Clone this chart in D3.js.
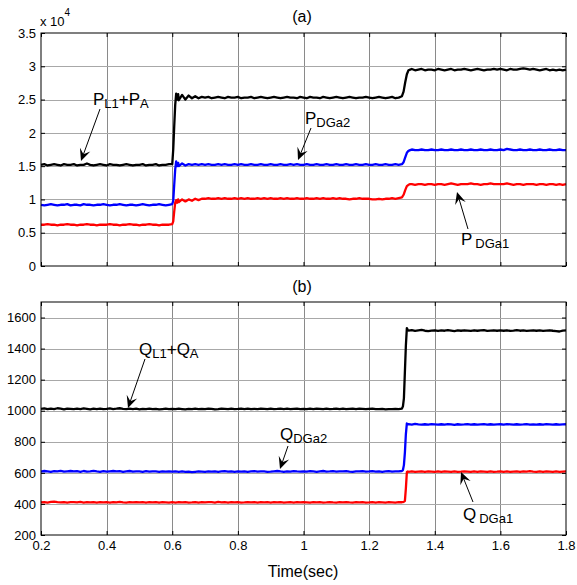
<!DOCTYPE html>
<html><head><meta charset="utf-8">
<script src="https://cdn.jsdelivr.net/npm/d3@7"></script>
<style>body{margin:0;background:#fff}svg{display:block}text{font-family:"Liberation Sans",Arial,sans-serif}</style>
</head><body><svg id="c" width="577" height="585"></svg>
<script>
// ---------- DATA ----------
const xTicks = [0.2,0.4,0.6,0.8,1.0,1.2,1.4,1.6,1.8];
const xTickLabels = ["0.2","0.4","0.6","0.8","1","1.2","1.4","1.6","1.8"];
const yTicksA = [0,0.5,1,1.5,2,2.5,3,3.5];
const yTickLabelsA = ["0","0.5","1","1.5","2","2.5","3","3.5"];
const yTicksB = [200,400,600,800,1000,1200,1400,1600];
const yTickLabelsB = ["200","400","600","800","1000","1200","1400","1600"];

// panel (a) sample times (sec)
const tA = [
0.20,0.21,0.22,0.23,0.24,0.25,0.26,0.27,0.28,0.29,
0.30,0.31,0.32,0.33,0.34,0.35,0.36,0.37,0.38,0.39,
0.40,0.41,0.42,0.43,0.44,0.45,0.46,0.47,0.48,0.49,
0.50,0.51,0.52,0.53,0.54,0.55,0.56,0.57,0.58,0.59,
0.60,
0.603,0.606,0.609,0.612,0.615,0.618,
0.62,0.63,0.64,0.65,0.66,0.67,0.68,0.69,
0.70,0.71,0.72,0.73,0.74,0.75,0.76,0.77,0.78,0.79,
0.80,0.81,0.82,0.83,0.84,0.85,0.86,0.87,0.88,0.89,
0.90,0.91,0.92,0.93,0.94,0.95,0.96,0.97,0.98,0.99,
1.00,1.01,1.02,1.03,1.04,1.05,1.06,1.07,1.08,1.09,
1.10,1.11,1.12,1.13,1.14,1.15,1.16,1.17,1.18,1.19,
1.20,1.21,1.22,1.23,1.24,1.25,1.26,1.27,1.28,1.29,
1.30,
1.305,1.31,1.315,1.32,1.325,
1.33,1.34,1.35,1.36,1.37,1.38,1.39,
1.40,1.41,1.42,1.43,1.44,1.45,1.46,1.47,1.48,1.49,
1.50,1.51,1.52,1.53,1.54,1.55,1.56,1.57,1.58,1.59,
1.60,1.61,1.62,1.63,1.64,1.65,1.66,1.67,1.68,1.69,
1.70,1.71,1.72,1.73,1.74,1.75,1.76,1.77,1.78,1.79,
1.80];

// P_L1+P_A  (x 10^4 W)
const pLoad = [
1.52,1.53,1.51,1.52,1.53,1.52,1.51,1.53,1.52,1.52,
1.53,1.51,1.52,1.52,1.54,1.52,1.51,1.52,1.53,1.52,
1.51,1.53,1.52,1.52,1.51,1.52,1.53,1.52,1.51,1.52,
1.52,1.53,1.51,1.52,1.52,1.53,1.51,1.52,1.52,1.53,
1.53,
1.75,2.10,2.42,2.59,2.50,2.58,
2.49,2.57,2.50,2.56,2.52,2.55,2.52,2.54,
2.53,2.54,2.52,2.53,2.54,2.53,2.52,2.54,2.53,2.53,
2.54,2.52,2.53,2.53,2.54,2.52,2.53,2.54,2.53,2.52,
2.53,2.54,2.53,2.52,2.53,2.54,2.53,2.53,2.52,2.54,
2.53,2.52,2.54,2.53,2.53,2.52,2.54,2.53,2.52,2.53,
2.54,2.53,2.52,2.53,2.54,2.53,2.52,2.53,2.53,2.54,
2.53,2.52,2.53,2.54,2.53,2.52,2.53,2.54,2.52,2.53,
2.55,
2.62,2.76,2.88,2.94,2.95,
2.96,2.94,2.95,2.96,2.94,2.95,2.95,
2.94,2.96,2.95,2.94,2.95,2.96,2.94,2.95,2.95,2.96,
2.95,2.94,2.95,2.96,2.95,2.94,2.95,2.95,2.96,2.95,
2.96,2.95,2.94,2.96,2.95,2.95,2.96,2.97,2.96,2.95,
2.96,2.95,2.94,2.95,2.96,2.94,2.95,2.94,2.95,2.94,
2.95];

// P_DGa2
const pDGa2 = [
0.92,0.91,0.92,0.93,0.92,0.91,0.92,0.92,0.93,0.91,
0.92,0.92,0.91,0.93,0.92,0.92,0.91,0.92,0.92,0.93,
0.92,0.91,0.92,0.92,0.93,0.92,0.91,0.92,0.92,0.91,
0.92,0.93,0.92,0.91,0.92,0.92,0.93,0.92,0.91,0.92,
0.93,
0.98,1.22,1.45,1.57,1.50,1.55,
1.50,1.54,1.51,1.53,1.52,1.53,1.52,1.53,
1.52,1.53,1.52,1.52,1.53,1.52,1.53,1.52,1.52,1.53,
1.52,1.53,1.52,1.52,1.53,1.52,1.52,1.53,1.52,1.52,
1.53,1.52,1.52,1.53,1.52,1.52,1.53,1.52,1.53,1.52,
1.52,1.53,1.52,1.52,1.53,1.52,1.52,1.53,1.52,1.52,
1.53,1.52,1.52,1.53,1.52,1.52,1.53,1.52,1.52,1.53,
1.52,1.52,1.53,1.52,1.52,1.53,1.52,1.52,1.53,1.52,
1.53,
1.56,1.63,1.70,1.73,1.74,
1.75,1.74,1.74,1.75,1.74,1.74,1.75,
1.74,1.74,1.75,1.74,1.74,1.75,1.74,1.74,1.75,1.74,
1.74,1.75,1.74,1.74,1.75,1.74,1.74,1.75,1.74,1.74,
1.75,1.74,1.76,1.75,1.74,1.74,1.75,1.74,1.74,1.75,
1.74,1.74,1.75,1.74,1.74,1.75,1.74,1.74,1.75,1.74,
1.74];

// P_DGa1
const pDGa1 = [
0.62,0.62,0.63,0.62,0.62,0.61,0.62,0.62,0.63,0.62,
0.62,0.61,0.62,0.62,0.63,0.62,0.62,0.61,0.62,0.62,
0.62,0.63,0.62,0.62,0.61,0.62,0.62,0.63,0.62,0.62,
0.61,0.62,0.62,0.63,0.62,0.62,0.61,0.62,0.62,0.62,
0.63,
0.67,0.82,0.95,0.99,0.95,1.00,
0.96,1.00,0.97,1.00,0.98,1.01,0.99,1.01,
1.01,1.02,1.01,1.01,1.02,1.01,1.02,1.01,1.01,1.02,
1.01,1.02,1.01,1.02,1.01,1.01,1.02,1.01,1.02,1.01,
1.02,1.01,1.01,1.02,1.01,1.02,1.01,1.01,1.02,1.01,
1.01,1.02,1.01,1.01,1.02,1.01,1.02,1.01,1.01,1.02,
1.01,1.02,1.01,1.01,1.00,1.01,1.01,1.02,1.01,1.01,
1.01,1.00,1.00,1.01,1.00,1.01,1.01,1.02,1.01,1.02,
1.03,
1.07,1.14,1.20,1.22,1.23,
1.23,1.22,1.23,1.23,1.22,1.23,1.23,
1.22,1.23,1.23,1.22,1.23,1.24,1.23,1.22,1.23,1.23,
1.23,1.24,1.23,1.23,1.22,1.23,1.23,1.24,1.23,1.23,
1.23,1.23,1.24,1.23,1.22,1.23,1.23,1.22,1.23,1.23,
1.23,1.22,1.23,1.23,1.22,1.23,1.23,1.22,1.23,1.22,
1.23];

// panel (b) sample times (sec)
const tB = [
0.20,0.21,0.22,0.23,0.24,0.25,0.26,0.27,0.28,0.29,
0.30,0.31,0.32,0.33,0.34,0.35,0.36,0.37,0.38,0.39,
0.40,0.41,0.42,0.43,0.44,0.45,0.46,0.47,0.48,0.49,
0.50,0.51,0.52,0.53,0.54,0.55,0.56,0.57,0.58,0.59,
0.60,0.61,0.62,0.63,0.64,0.65,0.66,0.67,0.68,0.69,
0.70,0.71,0.72,0.73,0.74,0.75,0.76,0.77,0.78,0.79,
0.80,0.81,0.82,0.83,0.84,0.85,0.86,0.87,0.88,0.89,
0.90,0.91,0.92,0.93,0.94,0.95,0.96,0.97,0.98,0.99,
1.00,1.01,1.02,1.03,1.04,1.05,1.06,1.07,1.08,1.09,
1.10,1.11,1.12,1.13,1.14,1.15,1.16,1.17,1.18,1.19,
1.20,1.21,1.22,1.23,1.24,1.25,1.26,1.27,1.28,1.29,
1.30,
1.303,1.306,1.309,1.312,1.315,1.318,
1.32,1.33,1.34,1.35,1.36,1.37,1.38,1.39,
1.40,1.41,1.42,1.43,1.44,1.45,1.46,1.47,1.48,1.49,
1.50,1.51,1.52,1.53,1.54,1.55,1.56,1.57,1.58,1.59,
1.60,1.61,1.62,1.63,1.64,1.65,1.66,1.67,1.68,1.69,
1.70,1.71,1.72,1.73,1.74,1.75,1.76,1.77,1.78,1.79,
1.80];

// Q_L1+Q_A (Var)
const qLoad = [
1012,1015,1010,1014,1011,1016,1013,1009,1014,1012,
1010,1013,1011,1015,1012,1009,1013,1011,1014,1010,
1012,1015,1011,1013,1016,1012,1010,1014,1011,1013,
1009,1012,1011,1013,1010,1012,1009,1011,1013,1010,
1012,1010,1013,1011,1009,1012,1010,1013,1011,1012,
1010,1013,1012,1009,1011,1014,1012,1010,1013,1011,
1012,1014,1011,1013,1010,1012,1011,1014,1012,1010,
1013,1011,1012,1014,1011,1013,1010,1012,1014,1011,
1012,1010,1013,1011,1014,1012,1010,1013,1011,1012,
1014,1011,1013,1010,1012,1014,1011,1013,1012,1010,
1012,1014,1011,1010,1012,1009,1011,1010,1012,1011,
1014,
1028,1080,1250,1420,1532,1518,
1516,1519,1514,1517,1520,1515,1512,1516,
1518,1514,1517,1515,1519,1516,1513,1517,1515,1518,
1516,1514,1518,1515,1517,1519,1514,1516,1518,1515,
1517,1515,1518,1514,1516,1519,1515,1517,1514,1516,
1518,1515,1517,1514,1516,1518,1515,1513,1510,1516,
1518];

// Q_DGa2
const qDGa2 = [
608,612,610,607,611,609,613,608,610,612,
609,611,607,612,608,610,613,609,607,611,
608,610,612,609,611,607,610,612,608,610,
609,607,611,608,610,609,607,610,608,609,
608,610,607,609,606,608,605,607,609,608,
607,609,608,610,607,609,611,608,610,607,
609,608,610,607,609,611,608,610,609,607,
608,610,612,609,607,610,608,611,609,608,
610,608,611,609,607,610,612,608,609,611,
608,610,609,611,608,607,610,609,611,608,
609,611,608,610,607,609,611,608,610,609,
612,
618,650,730,850,918,912,
914,911,915,912,910,913,911,914,
912,910,913,911,914,912,909,913,911,912,
914,911,913,910,912,914,911,913,910,912,
913,911,914,912,910,913,911,912,914,911,
912,910,913,911,914,912,910,913,911,912,
913];

// Q_DGa1
const qDGa1 = [
410,412,409,413,415,411,410,412,409,411,
412,410,413,409,411,410,412,409,411,410,
411,409,412,410,413,410,409,411,410,412,
410,412,409,411,410,412,408,411,410,409,
411,409,412,410,411,409,410,412,409,411,
410,412,411,409,413,410,411,409,412,410,
411,409,410,412,410,411,409,412,410,411,
409,411,410,412,409,410,411,409,412,410,
411,410,409,412,410,411,409,410,412,410,
409,411,410,412,410,409,411,410,412,409,
410,412,409,411,410,409,411,410,409,411,
411,
412,414,420,500,605,609,
607,609,606,608,610,607,609,608,
606,609,607,610,608,606,609,607,608,610,
608,606,609,607,610,608,606,609,607,608,
610,607,609,606,608,610,607,609,608,611,
608,606,609,607,610,608,606,609,607,608,
609];

// ---------- DRAW ----------
const svg = d3.select("#c");
svg.append("rect").attr("width",577).attr("height",585).attr("fill","#fff");
const L = 41, R = 566;
const x = d3.scaleLinear().domain([0.2,1.8]).range([L,R]);

function panel(top, bottom, yDomain, yTicks, yLabels, showX, series){
  const y = d3.scaleLinear().domain(yDomain).range([bottom, top]);
  const g = svg.append("g");
  // grid
  const grid = g.append("g").attr("stroke-width",1).attr("shape-rendering","crispEdges");
  xTicks.slice(1,-1).forEach(v=>grid.append("line").attr("stroke","#8a8a8a").attr("x1",Math.round(x(v))+0.5).attr("x2",Math.round(x(v))+0.5).attr("y1",top).attr("y2",bottom));
  yTicks.forEach(v=>{ if(y(v)>top+0.5 && y(v)<bottom-0.5) grid.append("line").attr("stroke","#a8a8a8").attr("x1",L).attr("x2",R).attr("y1",Math.round(y(v))+0.5).attr("y2",Math.round(y(v))+0.5); });
  // series
  const line = d3.line().x(d=>x(d[0])).y(d=>y(d[1]));
  series.forEach(s=>{
    g.append("path").datum(s.t.map((t,i)=>[t,s.v[i]]))
      .attr("d",line).attr("fill","none").attr("stroke",s.c)
      .attr("stroke-width",2.3).attr("stroke-linejoin","round");
  });
  // axes
  const fmtY = d => yLabels[yTicks.indexOf(d)];
  const fmtX = d => xTickLabels[xTicks.indexOf(d)];
  const axL = g.append("g").attr("transform",`translate(${L},0)`)
    .call(d3.axisLeft(y).tickValues(yTicks).tickFormat(fmtY).tickSizeInner(-4).tickSizeOuter(0).tickPadding(5));
  const axR = g.append("g").attr("transform",`translate(${R},0)`)
    .call(d3.axisRight(y).tickValues(yTicks).tickFormat("").tickSizeInner(-4).tickSizeOuter(0));
  const axT = g.append("g").attr("transform",`translate(0,${top})`)
    .call(d3.axisTop(x).tickValues(xTicks).tickFormat("").tickSizeInner(-4).tickSizeOuter(0));
  const axB = g.append("g").attr("transform",`translate(0,${bottom})`)
    .call(d3.axisBottom(x).tickValues(xTicks).tickFormat(showX?fmtX:"").tickSizeInner(-4).tickSizeOuter(0).tickPadding(6));
  [axL,axR,axT,axB].forEach(a=>{
    a.select(".domain").remove();
    a.selectAll("line").attr("stroke","#000");
    a.selectAll("text").attr("font-size",13).attr("fill","#000").attr("font-family",'"Liberation Sans",Arial,sans-serif');
  });
  g.append("rect").attr("x",L).attr("y",top).attr("width",R-L).attr("height",bottom-top)
    .attr("fill","none").attr("stroke","#000").attr("stroke-width",1);
  return y;
}

const yA = panel(33, 266, [0,3.5], yTicksA, yTickLabelsA, false, [
  {t:tA, v:pLoad, c:"#000"},
  {t:tA, v:pDGa2, c:"#0000ff"},
  {t:tA, v:pDGa1, c:"#ff0000"}
]);
const yB = panel(302, 535, [200,1700], yTicksB, yTickLabelsB, true, [
  {t:tB, v:qLoad, c:"#000"},
  {t:tB, v:qDGa2, c:"#0000ff"},
  {t:tB, v:qDGa1, c:"#ff0000"}
]);

// titles
svg.append("text").attr("x",302).attr("y",22).attr("text-anchor","middle").attr("font-size",16).text("(a)");
svg.append("text").attr("x",302).attr("y",292).attr("text-anchor","middle").attr("font-size",16).text("(b)");
svg.append("text").attr("x",303).attr("y",577).attr("text-anchor","middle").attr("font-size",16).text("Time(sec)");
// exponent label
const ex = svg.append("text").attr("x",40).attr("y",26).attr("font-size",13);
ex.append("tspan").text("x 10");
ex.append("tspan").attr("dy",-10).attr("font-size",10).text("4");

// annotations
function label(xp, yp, parts){
  const t = svg.append("text").attr("x",xp).attr("y",yp).attr("font-size",17);
  let sub = false;
  parts.forEach(p=>{
    const ts = t.append("tspan").text(p.s);
    if(p.sub && !sub){ ts.attr("dy",3).attr("font-size",13); sub=true; }
    else if(!p.sub && sub){ ts.attr("dy",-3); sub=false; }
    if(p.dx) ts.attr("dx",p.dx);
  });
}
function arrow(x1,y1,x2,y2){
  const dx=x2-x1, dy=y2-y1, len=Math.hypot(dx,dy), ux=dx/len, uy=dy/len, nx=-uy, ny=ux;
  const H=12, W=5.5;
  svg.append("line").attr("x1",x1).attr("y1",y1).attr("x2",x2-ux*6).attr("y2",y2-uy*6)
    .attr("stroke","#000").attr("stroke-width",1);
  const p=[[x2,y2],[x2-ux*H+nx*W,y2-uy*H+ny*W],[x2-ux*H*0.6,y2-uy*H*0.6],[x2-ux*H-nx*W,y2-uy*H-ny*W]];
  svg.append("path").attr("d","M"+p.map(d=>d.join(",")).join("L")+"Z").attr("fill","#000");
}

label(93, 105, [{s:"P"},{s:"L1",sub:true},{s:"+P"},{s:"A",sub:true}]);
arrow(100,109,81,161);
label(305, 124, [{s:"P"},{s:"DGa2",sub:true}]);
arrow(311,128,298,160);
label(461, 245, [{s:"P"},{s:"DGa1",sub:true,dx:3}]);
arrow(468,229,457,192);

label(139, 355, [{s:"Q"},{s:"L1",sub:true},{s:"+Q"},{s:"A",sub:true}]);
arrow(145,359,128,408);
label(280, 440, [{s:"Q"},{s:"DGa2",sub:true}]);
arrow(288,446,280,469);
label(463, 520, [{s:"Q"},{s:"DGa1",sub:true,dx:3}]);
arrow(473,502,461,472);
</script></body></html>
